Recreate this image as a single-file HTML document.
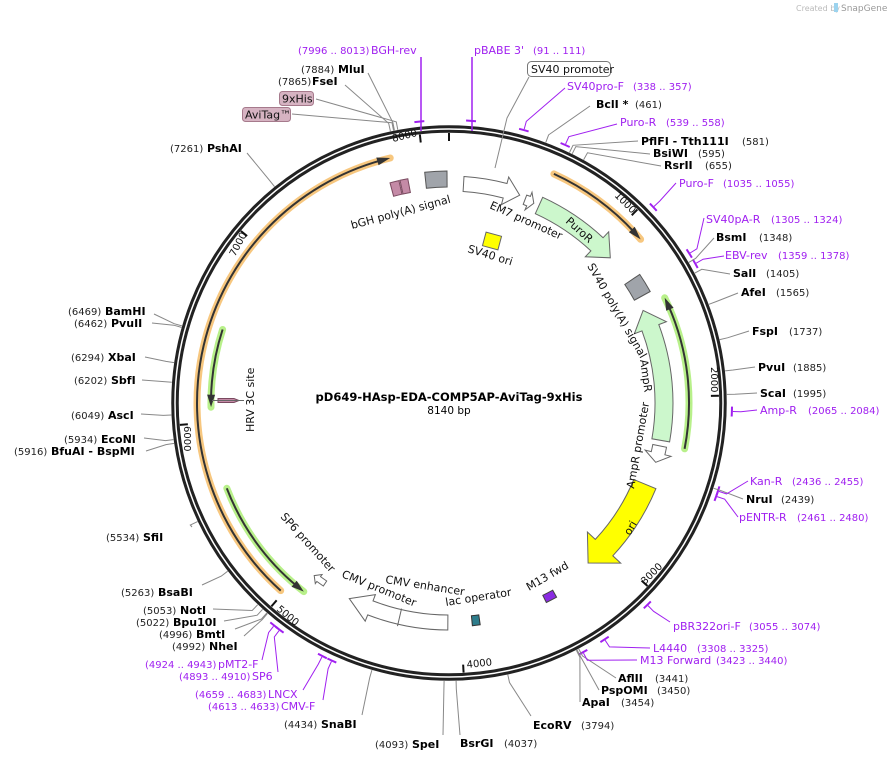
<!DOCTYPE html>
<html><head><meta charset="utf-8"><style>
html,body{margin:0;padding:0;background:#fff;}
svg{display:block;font-family:"DejaVu Sans","Liberation Sans",sans-serif;}
.n{font-size:10px;fill:#222;}
.b{font-size:11px;font-weight:bold;fill:#000;}
.p{font-size:11px;fill:#a020f0;}
.pn{font-size:10px;fill:#a020f0;}
.f{font-size:11px;fill:#111;}
.t{font-size:10px;fill:#111;}
</style></head><body>
<svg id="s" width="893" height="761" viewBox="0 0 893 761" xmlns="http://www.w3.org/2000/svg">
<g id="g"></g>
<text x="796" y="11" style="font-size:8px;fill:#bbb">Created by</text>
<rect x="834" y="3" width="4" height="9" fill="#9cd3ee"/>
<text x="841" y="11" style="font-size:9px;fill:#999">SnapGene</text>

<text x="449" y="401" text-anchor="middle" style="font-size:11.5px;font-weight:bold">pD649-HAsp-EDA-COMP5AP-AviTag-9xHis</text>
<text x="449" y="414" text-anchor="middle" style="font-size:10.5px">8140 bp</text>

<text x="298" y="54" class="pn">(7996 .. 8013)</text><text x="371" y="54" class="p">BGH-rev</text>
<text x="474" y="54" class="p">pBABE 3'</text><text x="533" y="54" class="pn">(91 .. 111)</text>
<rect x="527.5" y="61.5" width="83" height="15" rx="4" fill="#fff" stroke="#777"/>
<text x="531" y="73" class="f">SV40 promoter</text>
<text x="567" y="90" class="p">SV40pro-F</text><text x="633" y="90" class="pn">(338 .. 357)</text>
<text x="596" y="108" class="b">BclI *</text><text x="635" y="108" class="n">(461)</text>
<text x="620" y="126" class="p">Puro-R</text><text x="666" y="126" class="pn">(539 .. 558)</text>
<text x="641" y="145" class="b">PflFI  - Tth111I</text><text x="742" y="145" class="n">(581)</text>
<text x="653" y="157" class="b">BsiWI</text><text x="698" y="157" class="n">(595)</text>
<text x="664" y="169" class="b">RsrII</text><text x="705" y="169" class="n">(655)</text>
<text x="679" y="187" class="p">Puro-F</text><text x="723" y="187" class="pn">(1035 .. 1055)</text>
<text x="706" y="223" class="p">SV40pA-R</text><text x="771" y="223" class="pn">(1305 .. 1324)</text>
<text x="716" y="241" class="b">BsmI</text><text x="759" y="241" class="n">(1348)</text>
<text x="725" y="259" class="p">EBV-rev</text><text x="778" y="259" class="pn">(1359 .. 1378)</text>
<text x="733" y="277" class="b">SalI</text><text x="766" y="277" class="n">(1405)</text>
<text x="741" y="296" class="b">AfeI</text><text x="776" y="296" class="n">(1565)</text>
<text x="752" y="335" class="b">FspI</text><text x="789" y="335" class="n">(1737)</text>
<text x="758" y="371" class="b">PvuI</text><text x="793" y="371" class="n">(1885)</text>
<text x="760" y="397" class="b">ScaI</text><text x="793" y="397" class="n">(1995)</text>
<text x="760" y="414" class="p">Amp-R</text><text x="808" y="414" class="pn">(2065 .. 2084)</text>
<text x="750" y="485" class="p">Kan-R</text><text x="792" y="485" class="pn">(2436 .. 2455)</text>
<text x="746" y="503" class="b">NruI</text><text x="781" y="503" class="n">(2439)</text>
<text x="739" y="521" class="p">pENTR-R</text><text x="797" y="521" class="pn">(2461 .. 2480)</text>
<text x="673" y="630" class="p">pBR322ori-F</text><text x="749" y="630" class="pn">(3055 .. 3074)</text>
<text x="653" y="652" class="p">L4440</text><text x="697" y="652" class="pn">(3308 .. 3325)</text>
<text x="640" y="664" class="p">M13 Forward</text><text x="716" y="664" class="pn">(3423 .. 3440)</text>
<text x="618" y="682" class="b">AflII</text><text x="655" y="682" class="n">(3441)</text>
<text x="601" y="694" class="b">PspOMI</text><text x="657" y="694" class="n">(3450)</text>
<text x="582" y="706" class="b">ApaI</text><text x="621" y="706" class="n">(3454)</text>
<text x="533" y="729" class="b">EcoRV</text><text x="581" y="729" class="n">(3794)</text>
<text x="460" y="747" class="b">BsrGI</text><text x="504" y="747" class="n">(4037)</text>
<text x="375" y="748" class="n">(4093)</text><text x="412" y="748" class="b">SpeI</text>
<text x="284" y="728" class="n">(4434)</text><text x="321" y="728" class="b">SnaBI</text>
<text x="208" y="710" class="pn">(4613 .. 4633)</text><text x="281" y="710" class="p">CMV-F</text>
<text x="195" y="698" class="pn">(4659 .. 4683)</text><text x="268" y="698" class="p">LNCX</text>
<text x="179" y="680" class="pn">(4893 .. 4910)</text><text x="252" y="680" class="p">SP6</text>
<text x="145" y="668" class="pn">(4924 .. 4943)</text><text x="218" y="668" class="p">pMT2-F</text>
<text x="172" y="650" class="n">(4992)</text><text x="209" y="650" class="b">NheI</text>
<text x="159" y="638" class="n">(4996)</text><text x="196" y="638" class="b">BmtI</text>
<text x="136" y="626" class="n">(5022)</text><text x="173" y="626" class="b">Bpu10I</text>
<text x="143" y="614" class="n">(5053)</text><text x="180" y="614" class="b">NotI</text>
<text x="121" y="596" class="n">(5263)</text><text x="158" y="596" class="b">BsaBI</text>
<text x="106" y="541" class="n">(5534)</text><text x="143" y="541" class="b">SfiI</text>
<text x="14" y="455" class="n">(5916)</text><text x="51" y="455" class="b">BfuAI  - BspMI</text>
<text x="64" y="443" class="n">(5934)</text><text x="101" y="443" class="b">EcoNI</text>
<text x="71" y="419" class="n">(6049)</text><text x="108" y="419" class="b">AscI</text>
<text x="74" y="384" class="n">(6202)</text><text x="111" y="384" class="b">SbfI</text>
<text x="71" y="361" class="n">(6294)</text><text x="108" y="361" class="b">XbaI</text>
<text x="74" y="327" class="n">(6462)</text><text x="111" y="327" class="b">PvuII</text>
<text x="68" y="315" class="n">(6469)</text><text x="105" y="315" class="b">BamHI</text>
<text x="170" y="152" class="n">(7261)</text><text x="207" y="152" class="b">PshAI</text>
<text x="301" y="73" class="n">(7884)</text><text x="338" y="73" class="b">MluI</text>
<text x="278" y="85" class="n">(7865)</text><text x="312" y="85" class="b">FseI</text>
<rect x="279.5" y="91.5" width="34" height="14" rx="3" fill="#d6b3c2" stroke="#a67a8c"/>
<text x="282" y="102.5" class="f">9xHis</text>
<rect x="242.5" y="107.5" width="48" height="14" rx="3" fill="#d6b3c2" stroke="#a67a8c"/>
<text x="245" y="118.5" class="f">AviTag™</text>

<text class="f" transform="translate(352,229) rotate(-15)">bGH poly(A) signal</text>
<text class="f" transform="translate(489,208) rotate(24)">EM7 promoter</text>
<text class="f" transform="translate(565,222) rotate(42)">PuroR</text>
<text class="f" transform="translate(467,252) rotate(17)">SV40 ori</text>
<text class="f" transform="translate(587,266) rotate(60)">SV40 poly(A) signal</text>
<text class="f" transform="translate(640,360) rotate(82)">AmpR</text>
<text class="f" transform="translate(634,489) rotate(-80)">AmpR promoter</text>
<text class="f" transform="translate(630,536) rotate(-60)">ori</text>
<text class="f" transform="translate(529,591) rotate(-30)">M13 fwd</text>
<text class="f" transform="translate(446,606) rotate(-9)">lac operator</text>
<text class="f" transform="translate(385,583) rotate(9)">CMV enhancer</text>
<text class="f" transform="translate(341,577) rotate(22)">CMV promoter</text>
<text class="f" transform="translate(280,517) rotate(48)">SP6 promoter</text>
<text class="f" transform="translate(254,432) rotate(-90)">HRV 3C site</text>
<text class="t" transform="translate(393,142) rotate(-14)">8000</text>
<text class="t" transform="translate(614,196) rotate(45)">1000</text>
<text class="t" transform="translate(711,367) rotate(90)">2000</text>
<text class="t" transform="translate(645,585) rotate(-45)">3000</text>
<text class="t" transform="translate(467,668) rotate(-6)">4000</text>
<text class="t" transform="translate(276,610) rotate(40)">5000</text>
<text class="t" transform="translate(184,426) rotate(90)">6000</text>
<text class="t" transform="translate(235,257) rotate(-62)">7000</text>
</svg>
<script>
(function(){
var NS="http://www.w3.org/2000/svg",g=document.getElementById("g");
var CX=449,CY=403,K=360/8140;
function P(r,a){a=a*Math.PI/180;return [CX+r*Math.sin(a),CY-r*Math.cos(a)];}
function el(t,at){var e=document.createElementNS(NS,t);for(var k in at)e.setAttribute(k,at[k]);g.appendChild(e);return e;}
function arc(r,a1,a2){var p1=P(r,a1),p2=P(r,a2),sw=a2>a1?1:0,la=Math.abs(a2-a1)>180?1:0;
 return "M"+p1[0].toFixed(1)+" "+p1[1].toFixed(1)+" A"+r+" "+r+" 0 "+la+" "+sw+" "+p2[0].toFixed(1)+" "+p2[1].toFixed(1);}
function L(p){return " L"+p[0].toFixed(1)+" "+p[1].toFixed(1);}
function arrow(a1,a2,r1,r2,h,fill,stroke){var d=a2>a1?1:-1,ah=a2-d*h,ext=(r2-r1)*0.45;
 var s=arc(r2,a1,ah)+L(P(r2+ext,ah))+L(P((r1+r2)/2,a2))+L(P(r1-ext,ah));
 var p=P(r1,ah),q=P(r1,a1);var sw=d>0?0:1,la=Math.abs(ah-a1)>180?1:0;
 s+=L(p)+" A"+r1+" "+r1+" 0 "+la+" "+sw+" "+q[0].toFixed(1)+" "+q[1].toFixed(1)+" Z";
 el("path",{d:s,fill:fill,stroke:stroke,"stroke-width":1});}
function box(a1,a2,r1,r2,fill,stroke){var p=P(r1,a2),q=P(r1,a1);
 var s=arc(r2,a1,a2)+L(p)+" A"+r1+" "+r1+" 0 0 0 "+q[0].toFixed(1)+" "+q[1].toFixed(1)+" Z";
 el("path",{d:s,fill:fill,stroke:stroke,"stroke-width":1});}
function thin(a1,a2,r,col,hl){var d=a2>a1?1:-1;
 el("path",{d:arc(r,a1,a2),fill:"none",stroke:hl,"stroke-width":7,"stroke-linecap":"round"});
 el("path",{d:arc(r,a1,a2-d*2),fill:"none",stroke:col,"stroke-width":2});
 var t=P(r,a2),b1=P(r+4,a2-d*3),b2=P(r-4,a2-d*3);
 el("path",{d:"M"+t[0]+" "+t[1]+L(b1)+L(b2)+"Z",fill:col});}
el("circle",{cx:CX,cy:CY,r:274,fill:"none",stroke:"#222","stroke-width":7.5});
el("circle",{cx:CX,cy:CY,r:274,fill:"none",stroke:"#fff","stroke-width":1.5});
for(var i=0;i<9;i++){var a=i*1000*K;var p1=P(270,a),p2=P(262,a);
 el("line",{x1:p1[0],y1:p1[1],x2:p2[0],y2:p2[1],stroke:"#111","stroke-width":2});}
thin(221.9,346.5,252,"#333","#f7c77f");
thin(24.6,49.5,252,"#333","#f7c77f");
thin(101,64,240,"#333","#b8f08a");
thin(288,269,238,"#333","#b8f08a");
thin(249,217.6,238,"#333","#b8f08a");
arrow(3.8,18.8,212,227,4,"#fff","#666");
arrow(20.5,23,212,222,1.5,"#fff","#666");
arrow(24.5,48,208,226,5,"#ccf7cc","#666");
box(56,61,212,230,"#a0a4aa","#555");
arrow(100,64.5,206,224,5,"#ccf7cc","#666");
arrow(101.5,106,208,222,2.5,"#fff","#666");
arrow(112.5,139,200,224,6,"#ffff00","#666");
box(151,154,214,222,"#8a2be2","#444");
box(172,174,214,224,"#2e7d8c","#333");
arrow(180.3,207,212,227,6,"#fff","#666");
arrow(214.5,218,216,222,1.5,"#fff","#666");
box(354,359.5,216,232,"#a0a4aa","#555");
box(345,347.3,214,228,"#c48aa6","#7a4a60");
box(347.6,349.6,214,228,"#c48aa6","#7a4a60");
el("path",{d:"M218 398.5 L234 398.5 L239 400.5 L234 402.5 L218 402.5 Z",fill:"#c48aa6",stroke:"#7a4a60","stroke-width":1});
el("line",{x1:212,y1:400.5,x2:244,y2:400.5,stroke:"#666","stroke-width":1});
var s1=P(211,193),s2=P(229,193);el("line",{x1:s1[0],y1:s1[1],x2:s2[0],y2:s2[1],stroke:"#666"});
el("rect",{x:-8,y:-7,width:16,height:14,fill:"#ffff00",stroke:"#666",transform:"translate(492,241) rotate(15)"});
[8004,101,347,548,1045,1314,1368,2074,2445,2470,3064,3316,3431,4623,4671,4901,4933].forEach(function(q){
 var a=q*K;el("path",{d:arc(283,a-1,a+1),fill:"none",stroke:"#a020f0","stroke-width":2});});
var C="#888",PU="#a020f0";
var Ls=[[461,590,106,C],[581,638,141,C],[595,650,154,C],[655,661,166,C],[1348,714,238,C],[1405,730,274,C],[1565,738,293,C],[1737,749,331,C],[1885,755,367,C],[1995,757,393,C],[2439,743,499,C],
[3441,616,678,C],[3450,599,690,C],[3454,580,702,C],[3794,531,716,C],[4037,460,735,C],[4093,443,735,C],[4434,362,715,C],[4992,244,636,C],[4996,235,629,C],[5022,224,621,C],[5053,213,609,C],[5263,202,585,C],[5534,192,527,C],[5916,146,451,C],[5934,144,438,C],[6049,141,414,C],[6202,142,380,C],[6294,145,357,C],[6462,152,323,C],[6469,154,314,C],[7261,247,153,C],[7865,345,85,C],[7884,368,73,C],[7900,316,99,C],[7880,292,114,C],
[347,565,88,PU],[548,617,124,PU],[1045,676,183,PU],[1314,704,218,PU],[1368,724,256,PU],[2074,757,410,PU],[2445,748,481,PU],[2470,738,517,PU],[3064,670,622,PU],[3316,650,648,PU],[3431,637,660,PU],[4623,323,700,PU],[4671,303,690,PU],[4901,278,672,PU],[4933,262,660,PU]];
Ls.forEach(function(q){var a=q[0]*K,r0=q[3]==PU?284:278,p=P(r0,a),m=P(r0+8,a);
 el("path",{d:"M"+p[0].toFixed(1)+" "+p[1].toFixed(1)+L(m)+" L"+q[1]+" "+q[2],fill:"none",stroke:q[3],"stroke-width":1});});
el("line",{x1:421,y1:57,x2:421,y2:131,stroke:PU,"stroke-width":1.5});
el("line",{x1:472,y1:57,x2:472,y2:131,stroke:PU,"stroke-width":1.5});
el("path",{d:"M529 77 L507 118 L495 168",fill:"none",stroke:C});
})();
</script>
</body></html>
